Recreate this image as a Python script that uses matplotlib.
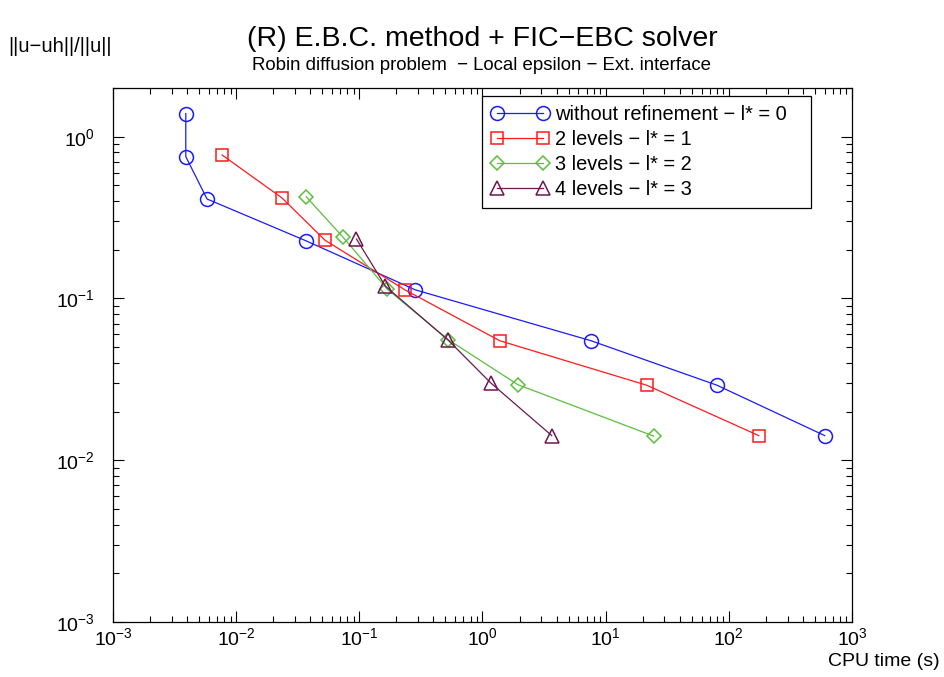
import matplotlib
matplotlib.use("Agg")
import matplotlib.pyplot as plt
from matplotlib.ticker import FixedLocator, NullFormatter

plt.rcParams['font.family'] = ['Liberation Sans', 'DejaVu Sans']
plt.rcParams['mathtext.default'] = 'regular'

# ---- data ----
t0 = [0.0039, 0.0039, 0.0058, 0.037, 0.285, 7.6, 80, 600]
e0 = [1.39, 0.753, 0.412, 0.227, 0.113, 0.0548, 0.0291, 0.0142]

t1 = [0.0077, 0.0234, 0.0527, 0.235, 1.38, 21.5, 175]
e1 = [0.77, 0.42, 0.229, 0.113, 0.0548, 0.0291, 0.0142]

t2 = [0.037, 0.0738, 0.169, 0.527, 1.94, 24.5]
e2 = [0.426, 0.239, 0.114, 0.0556, 0.0293, 0.0141]

t3 = [0.0948, 0.163, 0.527, 1.17, 3.65]
e3 = [0.233, 0.119, 0.0552, 0.0300, 0.0142]

labels = ["without refinement \u2212 l* = 0",
          "2 levels \u2212 l* = 1",
          "3 levels \u2212 l* = 2",
          "4 levels \u2212 l* = 3"]
colors = ['#1a1aff', '#ff1a1a', '#5cbf3c', '#6b1850']
markers = ['o', 's', 'D', '^']
msizes = [10, 8.3, 6.9, 9.7]

xdecades = [-3, -2, -1, 0, 1, 2, 3]
ydecades = [-3, -2, -1, 0]

title = "(R) E.B.C. method + FIC\u2212EBC solver"
subtitle = "Robin diffusion problem  \u2212 Local epsilon \u2212 Ext. interface"
ylabel = "||u\u2212uh||/||u||"
xlabel = "CPU time (s)"

fig = plt.figure(figsize=(9.45, 6.77), dpi=100)
ax = fig.add_axes([113/945, 1-622/677, (852-113)/945, (622-88)/677])

series = [(t0, e0), (t1, e1), (t2, e2), (t3, e3)]
for (x, y), c, m, ms, lab in zip(series, colors, markers, msizes, labels):
    ax.plot(x, y, color=c, marker=m, ms=ms, mfc='none', mec=c, mew=1.1,
            lw=0.9, label=lab)

ax.set_xscale('log')
ax.set_yscale('log')
ax.set_xlim(1e-3, 1e3)
ax.set_ylim(1e-3, 2)

xmaj = [10.0**d for d in xdecades]
ymaj = [10.0**d for d in ydecades]
xmin = [k * 10.0**d for d in xdecades[:-1] for k in range(2, 10)]
ymin = [k * 10.0**d for d in ydecades for k in range(2, 10) if k * 10.0**d <= 2]
ax.xaxis.set_major_locator(FixedLocator(xmaj))
ax.yaxis.set_major_locator(FixedLocator(ymaj))
ax.set_xticklabels([f"$10^{{{d}}}$" for d in xdecades])
ax.set_yticklabels([f"$10^{{{d}}}$" for d in ydecades])
ax.xaxis.set_minor_locator(FixedLocator(xmin))
ax.yaxis.set_minor_locator(FixedLocator(ymin))
ax.xaxis.set_minor_formatter(NullFormatter())
ax.yaxis.set_minor_formatter(NullFormatter())

ax.tick_params(which='both', direction='in', top=True, right=True, width=0.8,
               labelsize=14)
ax.tick_params(which='major', length=8)
ax.tick_params(which='minor', length=4)
ax.tick_params(axis='y', which='major', pad=13)
ax.tick_params(axis='x', which='major', pad=4)
for s in ax.spines.values():
    s.set_linewidth(0.9)

leg = ax.legend(loc='upper left',
                bbox_to_anchor=(482/945, 1-207/677, (811-482)/945, 111/677),
                bbox_transform=fig.transFigure, mode='expand',
                numpoints=2, fontsize=14.4,
                frameon=True, fancybox=False, framealpha=1, edgecolor='black',
                handlelength=2.9, handletextpad=0.3, borderpad=0.45,
                labelspacing=0.3, borderaxespad=0)
leg.get_frame().set_linewidth(0.9)

fig.text(482/945, 1-39/677, title, ha='center', va='center', fontsize=20.5)
fig.text(482/945, 1-65.5/677, subtitle, ha='center', va='center', fontsize=13.4)
fig.text(8/945, 1-47/677, ylabel, ha='left', va='center', fontsize=14.6)
fig.text(940/945, 1-662/677, xlabel, ha='right', va='center', fontsize=14)

fig.savefig("out.png", dpi=100)
